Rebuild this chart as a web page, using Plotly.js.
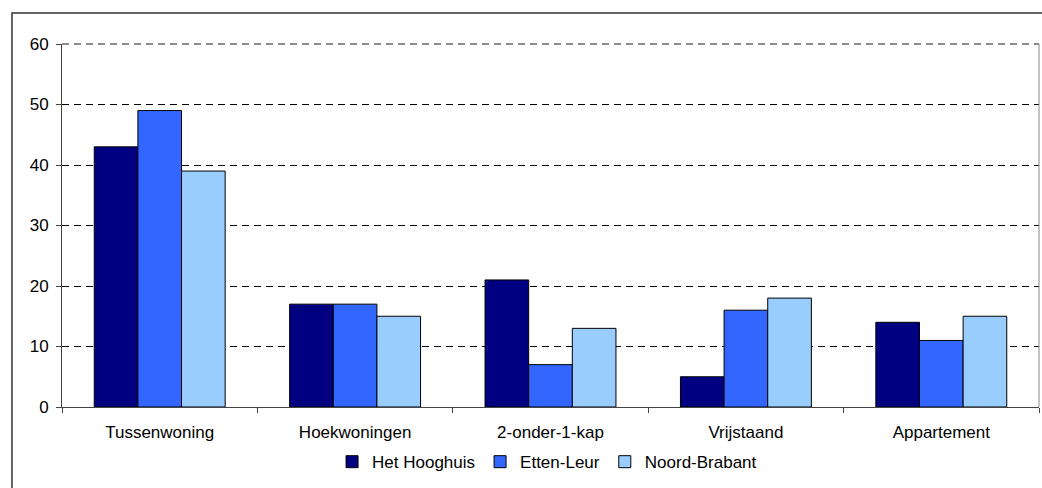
<!DOCTYPE html>
<html>
<head>
<meta charset="utf-8">
<script src="https://cdn.plot.ly/plotly-3.0.1.min.js"></script>
<style>
  html, body { margin: 0; padding: 0; background: #fff; }
  #chart { width: 1042px; height: 488px; }
</style>
</head>
<body>
<div id="chart"></div>
<script>
const categories = ["Tussenwoning", "Hoekwoningen", "2-onder-1-kap", "Vrijstaand", "Appartement"];
const seriesNames = ["Het Hooghuis", "Etten-Leur", "Noord-Brabant"];
const hetHooghuis = [43, 17, 21, 5, 14];
const ettenLeur = [49, 17, 7, 16, 11];
const noordBrabant = [39, 15, 13, 18, 15];
const yTicks = [0, 10, 20, 30, 40, 50, 60];

const colors = ["#000080", "#3366FF", "#99CCFF"];
const values = [hetHooghuis, ettenLeur, noordBrabant];

const traces = values.map((v, i) => ({
  type: "bar",
  name: seriesNames[i],
  x: categories,
  y: v,
  marker: { color: colors[i], line: { color: "#000", width: 1 } },
  hoverinfo: "x+y+name"
}));

const FONT = "'Liberation Sans', Arial, sans-serif";

const layout = {
  width: 1042,
  height: 488,
  paper_bgcolor: "#fff",
  plot_bgcolor: "#fff",
  margin: { l: 62, r: 3, t: 44, b: 81, autoexpand: false },
  font: { family: FONT, size: 17, color: "#000" },
  barmode: "group",
  bargap: 0.33,
  bargroupgap: 0,
  showlegend: true,
  legend: {
    orientation: "h",
    x: 0.525, xanchor: "center", xref: "container",
    y: 0.053, yanchor: "middle", yref: "container",
    font: { family: FONT, size: 17, color: "#000" },
    itemwidth: 30,
    traceorder: "normal",
    bgcolor: "rgba(0,0,0,0)"
  },
  xaxis: {
    type: "category",
    showline: true,
    linecolor: "#444",
    linewidth: 1,
    ticks: "outside",
    tickson: "boundaries",
    ticklen: 5,
    tickcolor: "#444",
    showgrid: false,
    ticklabelstandoff: 10,
    tickfont: { family: FONT, size: 17, color: "#000" },
    automargin: false,
    fixedrange: true
  },
  yaxis: {
    range: [0, 60],
    tickvals: yTicks,
    ticktext: yTicks.map(String),
    showline: true,
    linecolor: "#444",
    linewidth: 1,
    ticks: "outside",
    ticklen: 5,
    tickcolor: "#444",
    showgrid: true,
    gridcolor: "#000",
    gridwidth: 1,
    griddash: "7px,5px",
    zeroline: false,
    ticklabelstandoff: 4,
    tickfont: { family: FONT, size: 17, color: "#000" },
    automargin: false,
    fixedrange: true
  },
  shapes: [
    {
      type: "rect", xref: "paper", yref: "paper",
      x0: -0.0512, x1: 1.2, y0: -0.4, y1: 1.0854,
      line: { color: "#333", width: 1.5 },
      fillcolor: "rgba(0,0,0,0)", layer: "below"
    },
    {
      type: "line", xref: "paper", yref: "paper",
      x0: 0, x1: 1, y0: 1, y1: 1,
      line: { color: "#666", width: 1.5, dash: "7px,5px" }
    },
    {
      type: "line", xref: "paper", yref: "paper",
      x0: 1, x1: 1, y0: 0, y1: 1,
      line: { color: "#888", width: 1 }
    }
  ]
};

Plotly.newPlot("chart", traces, layout, { displayModeBar: false, staticPlot: true });
</script>
</body>
</html>
